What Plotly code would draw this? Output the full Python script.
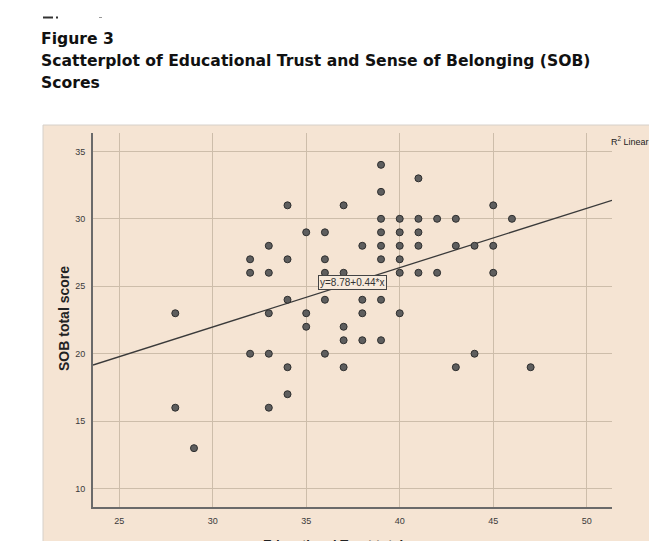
import plotly.graph_objects as go

# Data read from the scatterplot
et_total = [28, 28,
            29,
            32, 32, 32,
            33, 33, 33, 33, 33,
            34, 34, 34, 34, 34,
            35, 35, 35,
            36, 36, 36, 36, 36,
            37, 37, 37, 37, 37,
            38, 38, 38, 38,
            39, 39, 39, 39, 39, 39, 39, 39,
            40, 40, 40, 40, 40, 40,
            41, 41, 41, 41, 41,
            42, 42,
            43, 43, 43,
            44, 44,
            45, 45, 45,
            46,
            47]
sob_total = [23, 16,
             13,
             27, 26, 20,
             28, 26, 23, 20, 16,
             31, 27, 24, 19, 17,
             29, 23, 22,
             29, 27, 26, 24, 20,
             31, 26, 22, 21, 19,
             28, 24, 23, 21,
             34, 32, 30, 29, 28, 27, 24, 21,
             30, 29, 28, 27, 26, 23,
             33, 30, 29, 28, 26,
             30, 26,
             30, 28, 19,
             28, 20,
             31, 28, 26,
             30,
             19]

fit_intercept = 8.78
fit_slope = 0.44
fit_label = "y=8.78+0.44*x"

x_ticks = [25, 30, 35, 40, 45, 50]
y_ticks = [10, 15, 20, 25, 30, 35]
x_range = [23.6, 51.35]
y_range = [8.64, 36.36]

W, H = 649, 541
L, R, T, B = 93, 37, 133, 34
PW, PH = W - L - R, H - T - B


def px(x):
    return (x - L) / PW


def py(y):
    return (H - B - y) / PH


BEIGE = "#F5E4D3"
GRID = "#CDBDAA"
AXIS = "#6A6A6A"
TICKFONT = dict(family="Liberation Sans Narrow, Arial Narrow, Arial, sans-serif", size=9, color="#3a3a3a")

fig = go.Figure()

line_x = [x_range[0], x_range[1]]
line_y = [fit_intercept + fit_slope * v for v in line_x]
fig.add_trace(go.Scatter(x=line_x, y=line_y, mode="lines",
                         line=dict(color="#3a3a3a", width=1.3),
                         hoverinfo="skip", showlegend=False))

fig.add_trace(go.Scatter(x=et_total, y=sob_total, mode="markers",
                         marker=dict(size=7, color="#5E5E5E",
                                     line=dict(color="#2E2E2E", width=1)),
                         showlegend=False))

fig.update_xaxes(range=x_range, tickvals=x_ticks, showgrid=True, gridcolor=GRID, gridwidth=1,
                 zeroline=False, showline=True, linecolor=AXIS, linewidth=2,
                 tickfont=TICKFONT, ticks="", ticklabelstandoff=4)
fig.update_yaxes(range=y_range, tickvals=y_ticks, showgrid=True, gridcolor=GRID, gridwidth=1,
                 zeroline=False, showline=True, linecolor=AXIS, linewidth=2,
                 tickfont=TICKFONT, ticks="", ticklabelstandoff=4)

shapes = [
    dict(type="rect", xref="paper", yref="paper", layer="below",
         x0=px(43), x1=px(652), y0=py(545), y1=py(125),
         fillcolor=BEIGE, line=dict(color="#D6D0CA", width=1)),
    dict(type="line", xref="paper", yref="paper", x0=px(43), x1=px(53), y0=py(17.5), y1=py(17.5),
         line=dict(color="#333333", width=2)),
    dict(type="line", xref="paper", yref="paper", x0=px(56), x1=px(58), y0=py(17.5), y1=py(17.5),
         line=dict(color="#333333", width=2)),
    dict(type="line", xref="paper", yref="paper", x0=px(99), x1=px(102), y0=py(17.5), y1=py(17.5),
         line=dict(color="#999999", width=1)),
]

TITLE_FONT = "DejaVu Sans, Century Gothic, Arial, sans-serif"
annotations = [
    dict(text="<b>Figure 3</b>", xref="paper", yref="paper", x=px(39), y=py(50),
         xanchor="left", yanchor="bottom", showarrow=False,
         font=dict(family=TITLE_FONT, size=15.6, color="#111111")),
    dict(text="<b>Scatterplot of Educational Trust and Sense of Belonging (SOB)</b>", xref="paper", yref="paper",
         x=px(39), y=py(72), xanchor="left", yanchor="bottom", showarrow=False,
         font=dict(family=TITLE_FONT, size=15.6, color="#111111")),
    dict(text="<b>Scores</b>", xref="paper", yref="paper", x=px(39), y=py(94),
         xanchor="left", yanchor="bottom", showarrow=False,
         font=dict(family=TITLE_FONT, size=15.6, color="#111111")),
    dict(text="<b>SOB total score</b>", xref="paper", yref="paper", x=px(64), y=py(319),
         xanchor="center", yanchor="middle", textangle=-90, showarrow=False,
         font=dict(family="Liberation Sans, Arial, sans-serif", size=14, color="#222222")),
    dict(text="<b>Educational Trust total score</b>", xref="paper", yref="paper", x=px(352), y=py(535),
         xanchor="center", yanchor="top", showarrow=False,
         font=dict(family="Liberation Sans, Arial, sans-serif", size=13, color="#222222")),
    dict(text="R<sup>2</sup> Linear", xref="paper", yref="paper", x=px(630), y=py(141),
         xanchor="center", yanchor="middle", showarrow=False,
         font=dict(family="Liberation Sans Narrow, Arial Narrow, Arial, sans-serif", size=9, color="#222222")),
    dict(text=fit_label, x=37.5, y=25.25, xref="x", yref="y", showarrow=False,
         xanchor="center", yanchor="middle",
         bgcolor="#F7EADC", bordercolor="#444444", borderwidth=1, borderpad=1,
         font=dict(family="Liberation Sans Narrow, Arial Narrow, Arial, sans-serif", size=10, color="#333333")),
]

fig.update_layout(width=W, height=H, margin=dict(l=L, r=R, t=T, b=B),
                  paper_bgcolor="white", plot_bgcolor=BEIGE,
                  shapes=shapes, annotations=annotations, showlegend=False)

fig.write_html("out.html", config={"displayModeBar": False},
               post_script="document.body.style.margin='0px';document.body.style.padding='0px';")
